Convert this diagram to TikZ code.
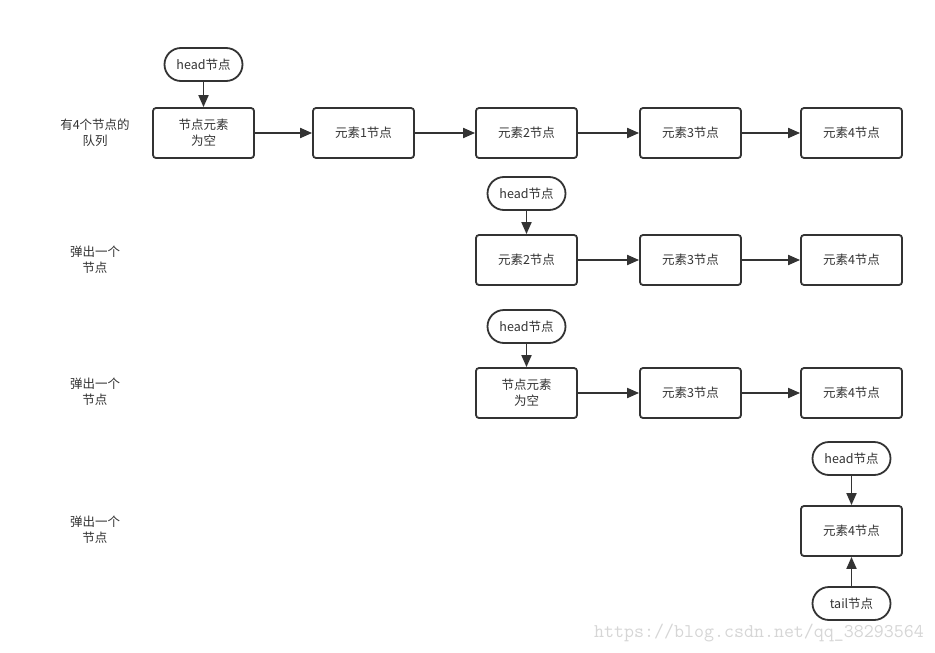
\documentclass[tikz,border=0pt]{standalone}
\usepackage{fontspec}
\newfontfamily\cjk{Noto Sans CJK SC}
\usepackage{xcolor}
\usetikzlibrary{arrows.meta}

\definecolor{linegray}{HTML}{333333}
\definecolor{markgray}{HTML}{D6D6D6}

\tikzset{
  elembox/.style={draw=linegray, line width=1.8pt, rounded corners=3pt,
    minimum width=101pt, minimum height=50pt, inner sep=0pt, align=center,
    font=\cjk\fontsize{12.5}{16}\selectfont, text=linegray},
  pill/.style={draw=linegray, line width=1.8pt, rounded corners=16.5pt,
    minimum width=78pt, minimum height=33pt, inner sep=0pt,
    font=\cjk\fontsize{12.5}{16}\selectfont, text=linegray},
  link/.style={draw=linegray, line width=1.8pt, -{Triangle[length=12pt,width=10pt]}},
  rowlabel/.style={align=center, font=\cjk\fontsize{12.5}{16}\selectfont, text=linegray}
}

\begin{document}
\begin{tikzpicture}[x=1pt,y=-1pt]

\useasboundingbox[fill=white] (0,0) rectangle (935,653);

% Row labels
\node[rowlabel] (lab1) at (95,133) {有4个节点的\\队列};
\node[rowlabel] (lab2) at (95,260) {弹出一个\\节点};
\node[rowlabel] (lab3) at (95,392) {弹出一个\\节点};
\node[rowlabel] (lab4) at (95,530) {弹出一个\\节点};

% Queue with 4 nodes
\node[elembox] (a0) at (203.5,133) {节点元素\\为空};
\node[elembox] (a1) at (363.5,133) {元素1节点};
\node[elembox] (a2) at (526.5,133) {元素2节点};
\node[elembox] (a3) at (690.5,133) {元素3节点};
\node[elembox] (a4) at (851.5,133) {元素4节点};
\node[pill] (ha) at (203.5,64.5) {head节点};
\draw[link] (ha) -- (a0);
\foreach \i/\j in {0/1,1/2,2/3,3/4} {
    \draw[link] (a\i) -- (a\j);
}

% First pop
\node[elembox] (b2) at (526.5,260) {元素2节点};
\node[elembox] (b3) at (690.5,260) {元素3节点};
\node[elembox] (b4) at (851.5,260) {元素4节点};
\node[pill] (hb) at (526.5,193.5) {head节点};
\draw[link] (hb) -- (b2);
\draw[link] (b2) -- (b3);
\draw[link] (b3) -- (b4);

% Second pop
\node[elembox] (c0) at (526.5,393) {节点元素\\为空};
\node[elembox] (c3) at (690.5,393) {元素3节点};
\node[elembox] (c4) at (851.5,393) {元素4节点};
\node[pill] (hc) at (526.5,326.5) {head节点};
\draw[link] (hc) -- (c0);
\draw[link] (c0) -- (c3);
\draw[link] (c3) -- (c4);

% Third pop (head and tail on the same node)
\node[elembox] (d4) at (851.5,531) {元素4节点};
\node[pill] (hd) at (851.5,458.5) {head节点};
\node[pill] (td) at (851.5,603.5) {tail节点};
\draw[link] (hd) -- (d4);
\draw[link] (td) -- (d4);

% Watermark
\node[text=markgray, font=\ttfamily\fontsize{19.4}{20}\selectfont, inner sep=0pt] (mark) at (759,633) {https://blog.csdn.net/qq\_38293564};

\end{tikzpicture}
\end{document}
